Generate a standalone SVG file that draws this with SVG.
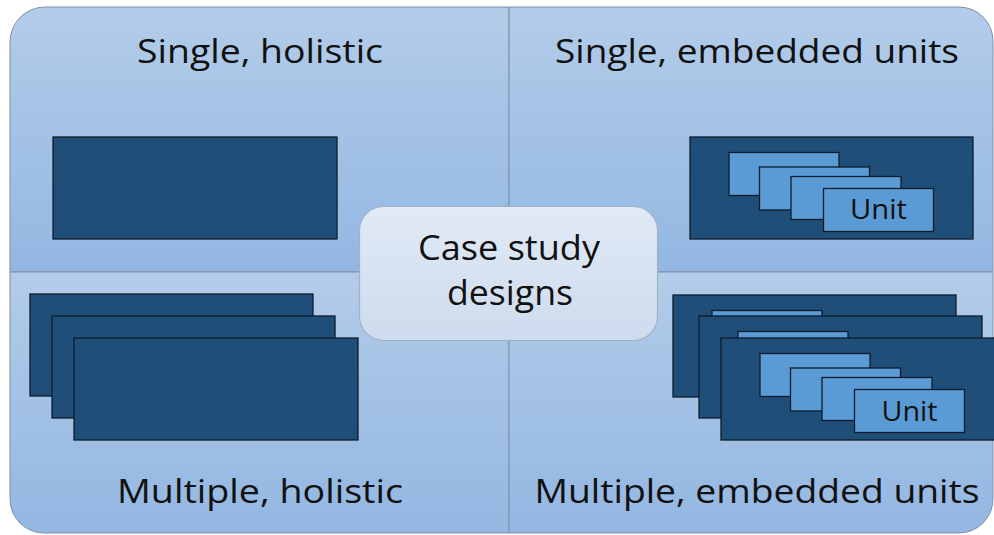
<svg xmlns="http://www.w3.org/2000/svg" xmlns:xlink="http://www.w3.org/1999/xlink" width="994" height="535" viewBox="0 0 994 535">
<style>
  .title { font-family: "Open Sans", "Noto Sans", "Liberation Sans", sans-serif; font-size: 32px; fill: #111111; text-anchor: middle; }
  .center { font-family: "Open Sans", "Noto Sans", "Liberation Sans", sans-serif; font-size: 35px; fill: #111111; text-anchor: middle; }
  .unitText { font-family: "Open Sans", "Noto Sans", "Liberation Sans", sans-serif; font-size: 27px; fill: #111111; text-anchor: middle; }
  .quad { stroke: #7f90a8; stroke-width: 1; }
  .case { fill: #1f4e79; stroke: #0e1c2b; stroke-width: 1.3; }
  .unit { fill: #5b9bd5; stroke: #0e1c2b; stroke-width: 1.3; }
</style>
<defs>
  <linearGradient id="qgrad" x1="0" y1="0" x2="0" y2="1">
    <stop offset="0" stop-color="#b3cce9"/>
    <stop offset="1" stop-color="#93b7e2"/>
  </linearGradient>
  <linearGradient id="cgrad" x1="0" y1="0" x2="0" y2="1">
    <stop offset="0" stop-color="#e1eaf6"/>
    <stop offset="1" stop-color="#cddbee"/>
  </linearGradient>
  <g id="embedded">
    <rect class="case" x="0" y="0" width="283" height="102"/>
    <rect class="unit" x="39" y="15.5" width="110" height="43"/>
    <rect class="unit" x="69.5" y="30" width="110" height="43"/>
    <rect class="unit" x="101" y="39.5" width="110" height="43"/>
    <rect class="unit" x="133.5" y="51.5" width="110" height="43"/>
  </g>
</defs>

<g id="background">
  <path class="quad" fill="url(#qgrad)" d="M10,272 V42 A35,35 0 0 1 45,7 H509 V272 Z"/>
  <path class="quad" fill="url(#qgrad)" d="M509,7 H959 A34,34 0 0 1 993,41 V272 H509 Z"/>
  <path class="quad" fill="url(#qgrad)" d="M10,272 H509 V533 H44 A34,34 0 0 1 10,499 Z"/>
  <path class="quad" fill="url(#qgrad)" d="M509,272 H993 V499 A34,34 0 0 1 959,533 H509 Z"/>
</g>

<g id="single-holistic">
  <text class="title" x="260" y="63" textLength="246" lengthAdjust="spacingAndGlyphs">Single, holistic</text>
  <rect class="case" x="53" y="137" width="284" height="102"/>
</g>

<g id="single-embedded">
  <text class="title" x="757" y="63" textLength="404" lengthAdjust="spacingAndGlyphs">Single, embedded units</text>
  <use xlink:href="#embedded" x="690" y="137"/>
  <text class="unitText" x="878.5" y="219" textLength="57" lengthAdjust="spacingAndGlyphs">Unit</text>
</g>

<g id="multiple-holistic">
  <rect class="case" x="30" y="294" width="283" height="102"/>
  <rect class="case" x="52" y="316" width="283" height="102"/>
  <rect class="case" x="74" y="338" width="284" height="102"/>
  <text class="title" x="260" y="503" textLength="286" lengthAdjust="spacingAndGlyphs">Multiple, holistic</text>
</g>

<g id="multiple-embedded">
  <use xlink:href="#embedded" x="673" y="295"/>
  <use xlink:href="#embedded" x="699" y="316"/>
  <use xlink:href="#embedded" x="721" y="338"/>
  <text class="unitText" x="909.5" y="421" textLength="56" lengthAdjust="spacingAndGlyphs">Unit</text>
  <text class="title" x="757" y="503" textLength="445" lengthAdjust="spacingAndGlyphs">Multiple, embedded units</text>
</g>

<g id="case-study-designs">
  <rect x="359.5" y="206.5" width="298" height="134" rx="24" ry="24" fill="url(#cgrad)" stroke="#a3b1c4" stroke-width="1.2"/>
  <text class="center" x="509" y="260" textLength="182" lengthAdjust="spacingAndGlyphs">Case study</text>
  <text class="center" x="510" y="305" textLength="126" lengthAdjust="spacingAndGlyphs">designs</text>
</g>
</svg>
